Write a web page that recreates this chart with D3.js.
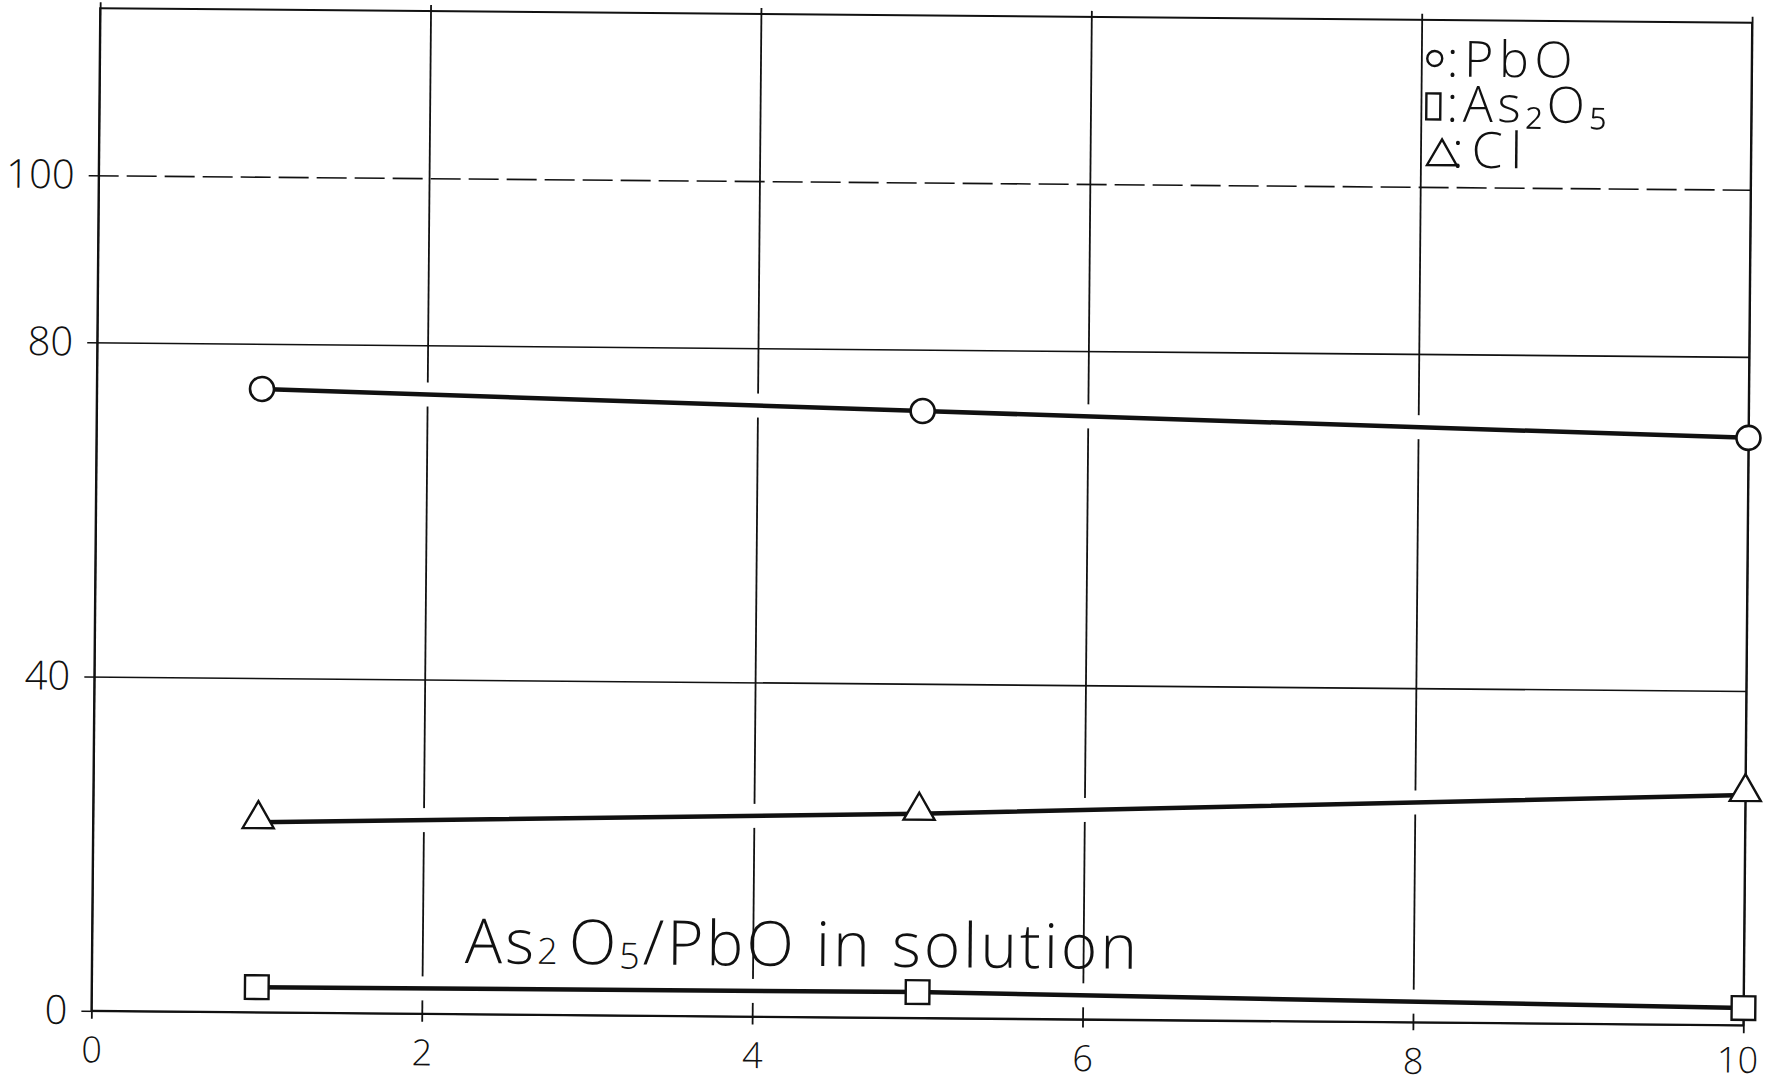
<!DOCTYPE html>
<html>
<head>
<meta charset="utf-8">
<script src="https://cdn.jsdelivr.net/npm/d3@7"></script>
<style>
  html, body { margin: 0; padding: 0; background: #fff; }
  svg { display: block; }
  text { font-family: 'Open Sans', Lato, 'DejaVu Sans', sans-serif; font-weight: 300; fill: #111; }
</style>
</head>
<body>
<svg id="chart" width="1778" height="1086"></svg>
<script>
// values
var xValues = [1, 5, 10];
var pboValues = [74.6, 72.65, 70.3];
var as2o5Values = [3.0, 3.1, 2.05];
var clValues = [22.75, 24.45, 27.55];

var xTicks = [0, 2, 4, 6, 8, 10];
var yTicks = [0, 40, 80, 100];
var yTickLabels = ['0', '40', '80', '100'];
var xTickLabels = ['0', '2', '4', '6', '8', '10'];
var legendLabels = [':PbO', ':As₂O₅', ':Cl'];

var svg = d3.select('#chart');

var x = d3.scaleLinear().domain([0, 10]).range([95, 1747]);
var y = d3.scaleLinear().domain([0, 120]).range([1018, 15.4]);

var plotW = x(10) - x(0);
var plotH = y(0) - y(120);

// the scan sits a little crooked, so turn the whole sheet a bit
var sheet = svg.append('g').attr('transform', 'rotate(0.5, 920, 600)');

var series = [
    { name: 'PbO', vals: pboValues, shape: 'circle' },
    { name: 'As2O5', vals: as2o5Values, shape: 'square' },
    { name: 'Cl', vals: clValues, shape: 'triangle' }
];
series.forEach(function(s) {
    s.points = xValues.map(function(v, i) { return [v, s.vals[i]]; });
});

// grid -------------------------------------------------------------
var gx = sheet.append('g')
    .attr('class', 'x-grid')
    .attr('transform', 'translate(0,' + y(0) + ')')
    .call(d3.axisBottom(x)
        .tickValues(xTicks)
        .tickFormat(function(d, i) { return xTickLabels[i]; })
        .tickSizeInner(-plotH)
        .tickSizeOuter(0)
        .tickPadding(26));
gx.select('.domain').remove();
gx.selectAll('.tick line')
    .attr('y1', 8)
    .attr('y2', -plotH - 6)
    .attr('stroke', '#111')
    .attr('stroke-width', 1.8);
gx.selectAll('.tick text')
    .attr('font-size', 36)
    .attr('fill', '#111')
    .attr('dx', function(d) { return d === 10 ? -6 : 0; })
    .attr('y', function(d) { return d === 10 ? 22 : 26; });

var gy = sheet.append('g')
    .attr('class', 'y-grid')
    .attr('transform', 'translate(' + x(0) + ',0)')
    .call(d3.axisLeft(y)
        .tickValues(yTicks)
        .tickFormat(function(d, i) { return yTickLabels[i]; })
        .tickSizeInner(-plotW)
        .tickSizeOuter(0)
        .tickPadding(24));
gy.select('.domain').remove();
gy.selectAll('.tick line')
    .attr('x1', -10)
    .attr('stroke', '#111')
    .attr('stroke-width', 1.6)
    .attr('stroke-dasharray', function(d) { return d === 100 ? '30,8' : null; });
gy.selectAll('.tick text')
    .attr('font-size', 40)
    .attr('fill', '#111');

var line = d3.line()
    .x(function(d) { return x(d[0]); })
    .y(function(d) { return y(d[1]); });

// pen was lifted around the curves, grid stops short of them
sheet.append('g').selectAll('path')
    .data(series)
    .enter()
    .append('path')
    .attr('d', function(d) { return line(d.points); })
    .attr('fill', 'none')
    .attr('stroke', '#fff')
    .attr('stroke-width', 24);

// frame
sheet.append('rect')
    .attr('x', x(0))
    .attr('y', y(120))
    .attr('width', plotW)
    .attr('height', plotH)
    .attr('fill', 'none')
    .attr('stroke', '#111')
    .attr('stroke-width', 2);

// curves
sheet.append('g').selectAll('path')
    .data(series)
    .enter()
    .append('path')
    .attr('d', function(d) { return line(d.points); })
    .attr('fill', 'none')
    .attr('stroke', '#111')
    .attr('stroke-width', 4.5);

var symbols = {
    square: d3.symbol().type(d3.symbolSquare).size(560),
    triangle: d3.symbol().type(d3.symbolTriangle).size(420)
};

series.forEach(function(s) {
    var g = sheet.append('g').attr('class', 'marks ' + s.name);
    if (s.shape === 'circle') {
        g.selectAll('circle')
            .data(s.points)
            .enter()
            .append('circle')
            .attr('cx', function(d) { return x(d[0]); })
            .attr('cy', function(d) { return y(d[1]); })
            .attr('r', 12)
            .attr('fill', '#fff')
            .attr('stroke', '#111')
            .attr('stroke-width', 2.6);
    } else {
        g.selectAll('path')
            .data(s.points)
            .enter()
            .append('path')
            .attr('transform', function(d) { return 'translate(' + x(d[0]) + ',' + (y(d[1]) - (s.shape === 'triangle' ? 3 : 0)) + ')'; })
            .attr('d', symbols[s.shape]())
            .attr('fill', '#fff')
            .attr('stroke', '#111')
            .attr('stroke-width', 2.4);
    }
});

// legend ------------------------------------------------------------
var leg = sheet.append('g').attr('class', 'legend');

leg.append('circle')
    .attr('cx', 1430).attr('cy', 54).attr('r', 7.5)
    .attr('fill', 'none').attr('stroke', '#111').attr('stroke-width', 2.4);
leg.append('rect')
    .attr('x', 1422).attr('y', 89).attr('width', 14).attr('height', 26)
    .attr('fill', 'none').attr('stroke', '#111').attr('stroke-width', 2.4);
leg.append('path')
    .attr('d', d3.symbol().type(d3.symbolTriangle).size(380)())
    .attr('transform', 'translate(1438,152)')
    .attr('fill', 'none').attr('stroke', '#111').attr('stroke-width', 2.4);

var legendRows = [
    { x: 1442, y: 72, len: 126 },
    { x: 1442, y: 117, len: 160 },
    { x: 1448, y: 163, len: 70 }
];
leg.selectAll('text.lab')
    .data(legendLabels)
    .enter()
    .append('text')
    .attr('class', 'lab')
    .attr('x', function(d, i) { return legendRows[i].x; })
    .attr('y', function(d, i) { return legendRows[i].y; })
    .attr('font-size', 50)
    .attr('textLength', function(d, i) { return legendRows[i].len; })
    .attr('lengthAdjust', 'spacing')
    .text(function(d) { return d; });

// note over the As2O5 curve
var note = sheet.append('text')
    .attr('x', 468)
    .attr('y', 967)
    .attr('font-size', 62)
    .attr('textLength', 672)
    .attr('lengthAdjust', 'spacing');
note.append('tspan').text('As');
note.append('tspan').attr('font-size', 36).text('2');
note.append('tspan').attr('dx', 8).text('O');
note.append('tspan').attr('font-size', 36).attr('dy', 4).text('5');
note.append('tspan').attr('dy', -4).text('/PbO in solution');
</script>
</body>
</html>
